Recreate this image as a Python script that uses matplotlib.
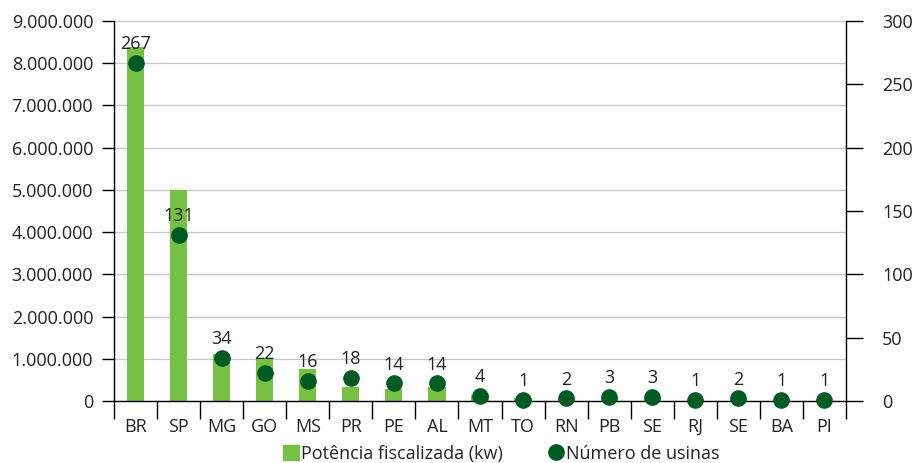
import numpy as np
import matplotlib.pyplot as plt
from matplotlib.lines import Line2D
from matplotlib.patches import Patch
from matplotlib.ticker import FuncFormatter

plt.rcParams['font.family'] = ['Open Sans', 'DejaVu Sans']
plt.rcParams['text.color'] = '#222222'
plt.rcParams['xtick.labelcolor'] = '#222222'
plt.rcParams['ytick.labelcolor'] = '#222222'

estados = ['BR', 'SP', 'MG', 'GO', 'MS', 'PR', 'PE', 'AL', 'MT', 'TO',
           'RN', 'PB', 'SE', 'RJ', 'SE', 'BA', 'PI']
potencia = [8390000, 4990000, 1110000, 1030000, 760000, 330000, 290000, 330000,
            140000, 70000, 50000, 70000, 60000, 15000, 40000, 15000, 15000]
usinas = [267, 131, 34, 22, 16, 18, 14, 14, 4, 1, 2, 3, 3, 1, 2, 1, 1]

verde = '#76c043'
verde_esc = '#005a24'

fig = plt.figure(figsize=(9.15, 4.63), dpi=100)
ax = fig.add_axes([114/915, 1-401/463, 732/915, 380/463])
x = np.arange(len(estados))

ax.bar(x, potencia, width=0.4, color=verde, zorder=2)
ax.set_xlim(-0.5, len(estados)-0.5)
ax.set_ylim(0, 9000000)
ax.set_yticks(np.arange(0, 9000001, 1000000))
ax.yaxis.set_major_formatter(FuncFormatter(lambda v, p: f'{int(v):,}'.replace(',', '.')))
ax.grid(axis='y', color='#c8c8c8', linewidth=1, zorder=0)
ax.set_axisbelow(True)
ax.tick_params(axis='y', length=9, width=1, labelsize=13, pad=6)

# separadores entre categorias
ax.set_xticks(np.arange(-0.5, len(estados)), minor=False)
ax.set_xticklabels([])
ax.tick_params(axis='x', which='major', length=13, width=1)
ax.set_xticks(x, minor=True)
ax.set_xticklabels(estados, minor=True)
ax.tick_params(axis='x', which='minor', length=0, labelsize=13, pad=12)

for s in ['top', 'right']:
    ax.spines[s].set_visible(False)
ax.spines['left'].set_linewidth(1)
ax.spines['bottom'].set_linewidth(1)

ax2 = ax.twinx()
ax2.set_ylim(0, 300)
ax2.set_yticks(np.arange(0, 301, 50))
ax2.scatter(x, usinas, s=120, color=verde_esc, zorder=3, clip_on=False)
for xi, u in zip(x, usinas):
    ax2.annotate(str(u), (xi, u), xytext=(0, 7), textcoords='offset points',
                 ha='center', va='bottom', fontsize=13)
ax2.tick_params(axis='y', length=12, width=1, labelsize=13, pad=14)
for s in ['top', 'left', 'bottom']:
    ax2.spines[s].set_visible(False)
ax2.spines['right'].set_linewidth(1)

handles = [Patch(color=verde, label='Potência fiscalizada (kw)'),
           Line2D([], [], marker='o', color=verde_esc, linestyle='none',
                  markersize=11, label='Número de usinas')]
fig.legend(handles=handles, loc='center', bbox_to_anchor=(0.548, 0.02), ncol=2,
           frameon=False, fontsize=13, handlelength=0.9, handleheight=0.9,
           handletextpad=0.1, columnspacing=2.5)

fig.savefig('out.png', dpi=100)
